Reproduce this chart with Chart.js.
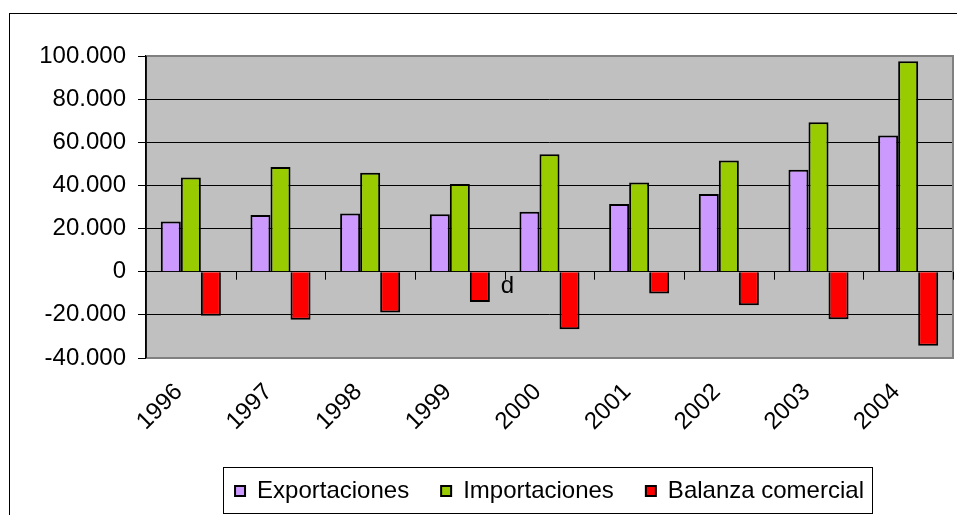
<!DOCTYPE html>
<html>
<head>
<meta charset="utf-8">
<script src="https://cdn.jsdelivr.net/npm/chart.js@4/dist/chart.umd.min.js"></script>
<style>
  html, body { margin: 0; padding: 0; background: #fff; }
  #wrap { width: 957px; height: 515px; position: relative; }
</style>
</head>
<body>
<div id="wrap"><canvas id="c" width="957" height="515"></canvas></div>
<script>
const years = ['1996','1997','1998','1999','2000','2001','2002','2003','2004'];
const exportaciones = [23224, 26261, 26974, 26587, 27775, 31334, 36059, 47253, 63167];
const importaciones = [43627, 48559, 45921, 40671, 54503, 41399, 51554, 69340, 97540];
const balanza = [-20402, -22298, -18947, -14084, -26728, -10065, -15495, -22087, -34373];
const seriesNames = ['Exportaciones', 'Importaciones', 'Balanza comercial'];
const yTicks = [-40000, -20000, 0, 20000, 40000, 60000, 80000, 100000];
const yTickLabels = ['-40.000', '-20.000', '0', '20.000', '40.000', '60.000', '80.000', '100.000'];
const strayLabel = 'd';

const FONT = "'Liberation Sans', Arial, sans-serif";

const decor = {
  id: 'decor',
  beforeDraw(chart) {
    const {ctx, chartArea: a} = chart;
    ctx.save();
    ctx.fillStyle = '#C0C0C0';
    ctx.fillRect(a.left, a.top, a.right - a.left, a.bottom - a.top);
    // outer frame
    ctx.strokeStyle = '#000';
    ctx.lineWidth = 1;
    ctx.strokeRect(9.5, 13.5, 1000, 600);
    ctx.restore();
  },
  afterDraw(chart) {
    const {ctx, chartArea: a, scales} = chart;
    const x = scales.x, y = scales.y;
    ctx.save();
    // plot border (gray) top/right/bottom
    ctx.strokeStyle = '#808080';
    ctx.lineWidth = 2;
    ctx.beginPath();
    ctx.moveTo(a.left, a.top); ctx.lineTo(a.right, a.top);
    ctx.lineTo(a.right, a.bottom); ctx.lineTo(a.left, a.bottom);
    ctx.stroke();
    // left axis line
    ctx.strokeStyle = '#000';
    ctx.lineWidth = 1.5;
    ctx.beginPath();
    ctx.moveTo(a.left, a.top); ctx.lineTo(a.left, a.bottom);
    ctx.stroke();
    // category tick marks on zero line
    const y0 = y.getPixelForValue(0);
    const half = (x.getPixelForValue(1) - x.getPixelForValue(0)) / 2;
    ctx.lineWidth = 1;
    ctx.beginPath();
    for (let i = 0; i <= years.length; i++) {
      const px = Math.round(x.getPixelForValue(i) - half) + 0.5;
      ctx.moveTo(px, y0); ctx.lineTo(px, y0 + 8);
    }
    ctx.stroke();
    // stray label
    ctx.fillStyle = '#000';
    ctx.font = '24px ' + FONT;
    ctx.textAlign = 'left';
    ctx.textBaseline = 'middle';
    ctx.fillText(strayLabel, x.getPixelForValue(3) + half - 4, y.getPixelForValue(-7000));
    // legend frame
    const lg = chart.legend;
    if (lg && lg.legendHitBoxes && lg.legendHitBoxes.length) {
      const hb = lg.legendHitBoxes;
      const l = Math.min(...hb.map(b => b.left)) - 12;
      const r = Math.max(...hb.map(b => b.left + b.width)) + 8;
      const t = Math.min(...hb.map(b => b.top)) - 12;
      const bt = Math.max(...hb.map(b => b.top + b.height)) + 10;
      ctx.strokeStyle = '#000';
      ctx.lineWidth = 1;
      ctx.strokeRect(Math.round(l) + 0.5, Math.round(t) + 0.5, Math.round(r - l), Math.round(bt - t));
    }
    ctx.restore();
  }
};

new Chart(document.getElementById('c'), {
  type: 'bar',
  data: {
    labels: years,
    datasets: [
      { label: seriesNames[0], data: exportaciones, backgroundColor: '#CC99FF', borderColor: '#000', borderWidth: 2 },
      { label: seriesNames[1], data: importaciones, backgroundColor: '#99CC00', borderColor: '#000', borderWidth: 2 },
      { label: seriesNames[2], data: balanza, backgroundColor: '#FF0000', borderColor: '#000', borderWidth: 2 }
    ]
  },
  options: {
    responsive: false,
    animation: false,
    devicePixelRatio: 1,
    layout: { padding: { left: 0, right: 4, top: 56, bottom: 2 } },
    datasets: { bar: { categoryPercentage: 0.67, barPercentage: 1.0 } },
    plugins: {
      title: { display: false },
      tooltip: { enabled: false },
      legend: {
        position: 'bottom',
        fullSize: false,
        labels: {
          font: { family: FONT, size: 24 },
          color: '#000',
          boxWidth: 10,
          boxHeight: 10,
          padding: 32,
          useBorderRadius: false
        }
      }
    },
    scales: {
      x: {
        grid: { display: false, drawTicks: false },
        border: { display: false },
        ticks: {
          font: { family: FONT, size: 24 },
          color: '#000',
          minRotation: 45,
          maxRotation: 45,
          padding: 20,
          labelOffset: -12,
          autoSkip: false
        },
        afterFit(s) { s.height = 89; }
      },
      y: {
        min: -40000,
        max: 100000,
        afterBuildTicks(s) { s.ticks = yTicks.map(v => ({ value: v })); },
        grid: {
          color: ctx => (ctx.tick && (ctx.tick.value === 100000 || ctx.tick.value === -40000)) ? '#808080' : '#000',
          tickColor: '#000',
          tickLength: 8,
          lineWidth: 1
        },
        border: { display: true, color: '#000', width: 1.5 },
        ticks: {
          font: { family: FONT, size: 24 },
          color: '#000',
          padding: 12,
          callback: (v) => { const i = yTicks.indexOf(v); return i >= 0 ? yTickLabels[i] : ''; }
        },
        afterFit(s) { s.width = 146; }
      }
    }
  },
  plugins: [decor]
});
</script>
</body>
</html>
